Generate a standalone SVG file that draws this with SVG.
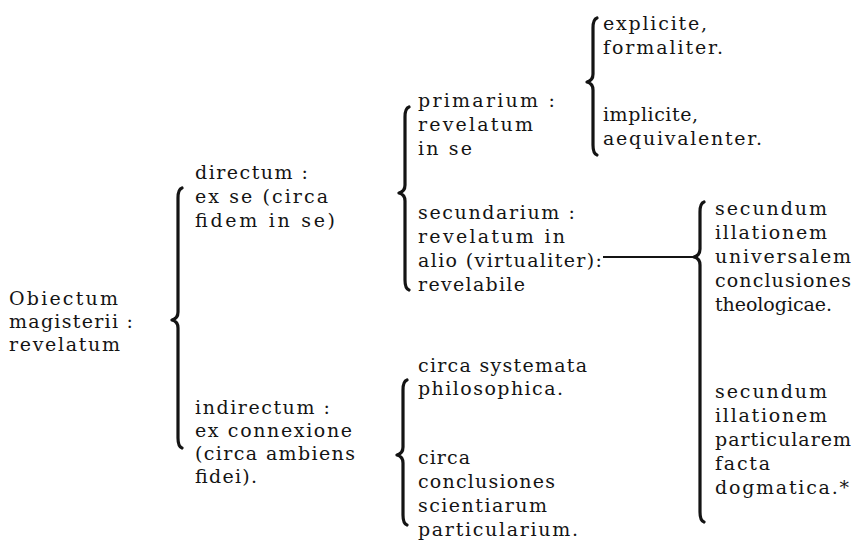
<svg xmlns="http://www.w3.org/2000/svg" width="853" height="553" viewBox="0 0 853 553">
  <style>
    .t { font-family: "DejaVu Serif", "Liberation Serif", serif; font-size: 19px; fill: #141414; }
    .brace { fill: none; stroke: #141414; stroke-width: 3.2; stroke-linecap: round; stroke-linejoin: round; }
    .link { fill: none; stroke: #141414; stroke-width: 2; }
  </style>
  <rect width="853" height="553" fill="#ffffff"/>

  <!-- root term -->
  <g id="obiectum">
    <text class="t" x="9" y="305" textLength="109">Obiectum</text>
    <text class="t" x="9" y="328" textLength="124">magisterii :</text>
    <text class="t" x="9" y="351" textLength="111">revelatum</text>
  </g>

  <g id="directum">
    <text class="t" x="195" y="179" textLength="113">directum :</text>
    <text class="t" x="195" y="203" textLength="133">ex se (circa</text>
    <text class="t" x="195" y="227" textLength="140">fidem in se)</text>
  </g>

  <g id="indirectum">
    <text class="t" x="195" y="414" textLength="135">indirectum :</text>
    <text class="t" x="195" y="437" textLength="157">ex connexione</text>
    <text class="t" x="195" y="460" textLength="160">(circa ambiens</text>
    <text class="t" x="195" y="483" textLength="62">fidei).</text>
  </g>

  <g id="primarium">
    <text class="t" x="418" y="107" textLength="137">primarium :</text>
    <text class="t" x="418" y="131" textLength="115">revelatum</text>
    <text class="t" x="418" y="155" textLength="54">in se</text>
  </g>

  <g id="secundarium">
    <text class="t" x="418" y="219" textLength="157">secundarium :</text>
    <text class="t" x="418" y="243" textLength="147">revelatum in</text>
    <text class="t" x="418" y="267" textLength="184">alio (virtualiter):</text>
    <text class="t" x="418" y="291" textLength="107">revelabile</text>
  </g>

  <g id="systemata">
    <text class="t" x="418" y="372" textLength="169">circa systemata</text>
    <text class="t" x="418" y="395" textLength="145">philosophica.</text>
  </g>

  <g id="conclusiones-scientiarum">
    <text class="t" x="418" y="464" textLength="52">circa</text>
    <text class="t" x="418" y="488" textLength="137">conclusiones</text>
    <text class="t" x="418" y="512" textLength="129">scientiarum</text>
    <text class="t" x="418" y="536" textLength="160">particularium.</text>
  </g>

  <g id="explicite">
    <text class="t" x="603" y="30" textLength="104">explicite,</text>
    <text class="t" x="603" y="54" textLength="120">formaliter.</text>
  </g>

  <g id="implicite">
    <text class="t" x="603" y="121" textLength="95">implicite,</text>
    <text class="t" x="603" y="145" textLength="159">aequivalenter.</text>
  </g>

  <g id="universalem">
    <text class="t" x="715" y="215" textLength="112">secundum</text>
    <text class="t" x="715" y="239" textLength="112">illationem</text>
    <text class="t" x="715" y="263" textLength="136">universalem</text>
    <text class="t" x="715" y="287" textLength="136">conclusiones</text>
    <text class="t" x="715" y="311" textLength="117">theologicae.</text>
  </g>

  <g id="particularem">
    <text class="t" x="715" y="398" textLength="112">secundum</text>
    <text class="t" x="715" y="422" textLength="112">illationem</text>
    <text class="t" x="715" y="446" textLength="136">particularem</text>
    <text class="t" x="715" y="470" textLength="55">facta</text>
    <text class="t" x="715" y="494" textLength="134">dogmatica.*</text>
  </g>

  <!-- braces and the link line -->
  <g id="connectors">
    <path class="brace" d="M182,188 C179,189 178,192 178,198 L178,312 C178,317 176,319 172,320 C176,321 178,323 178,328 L178,438 C178,444 179,447 182,448"/>
    <path class="brace" d="M409,107 C406,108 405,111 405,117 L405,185 C405,190 403,192 399,193 C403,194 405,196 405,201 L405,280 C405,286 406,289 409,290"/>
    <path class="brace" d="M597,18 C594,19 593,22 593,28 L593,74 C593,79 591,81 587,82 C591,83 593,85 593,90 L593,145 C593,151 594,154 597,155"/>
    <path class="brace" d="M407,380 C404,381 403,384 403,390 L403,447 C403,452 401,454 397,455 C401,456 403,458 403,463 L403,515 C403,521 404,524 407,525"/>
    <path class="brace" d="M704,202 C701,203 700,206 700,212 L700,249 C700,254 698,256 694,257 C698,258 700,260 700,265 L700,512 C700,518 701,521 704,522"/>
    <path class="link" d="M603,257 L694,257"/>
  </g>
</svg>
